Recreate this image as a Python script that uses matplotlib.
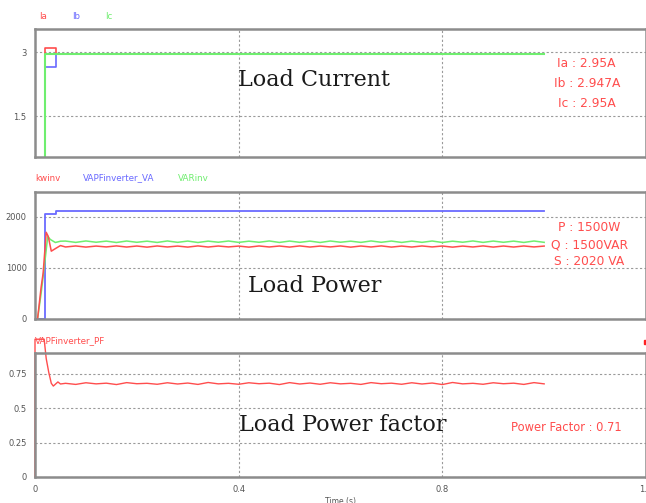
import matplotlib
matplotlib.use("Agg")
import matplotlib.pyplot as plt
import numpy as np

# --- load current (A) ---
t_cur = [0, 0.02, 0.02, 0.041, 0.041, 1.0]
ia = [0, 0, 3.09, 3.09, 2.95, 2.95]
ib = [0, 0, 2.65, 2.65, 2.947, 2.947]
ic = [0, 0, 2.95, 2.95, 2.95, 2.95]

# --- load power ---
t_p0 = [0, 0.005, 0.012, 0.016, 0.022, 0.026, 0.032, 0.04, 0.05]
p0 = [0, 0, 620, 900, 1700, 1620, 1330, 1380, 1440]
t_q0 = [0, 0.005, 0.012, 0.018, 0.025, 0.03, 0.04, 0.05]
q0 = [0, 0, 500, 1000, 1620, 1560, 1500, 1525]
t_s = [0, 0.02, 0.02, 0.042, 0.042, 1.0]
s_va = [0, 0, 2060, 2060, 2110, 2110]

# steady state samples, 0.06 s .. 1.0 s
p_ss = [1412, 1432, 1410, 1430, 1413, 1433, 1411, 1431, 1409, 1432, 1412, 1430,
        1410, 1433, 1411, 1431, 1413, 1430, 1409, 1432, 1412, 1431, 1410, 1433,
        1411, 1430, 1413, 1432, 1409, 1431, 1412, 1433, 1410, 1430, 1411, 1432,
        1413, 1431, 1409, 1430, 1412, 1433, 1410, 1431, 1411, 1432, 1413, 1430]
q_ss = [1528, 1502, 1530, 1505, 1527, 1500, 1529, 1504, 1526, 1501, 1530, 1503,
        1528, 1500, 1527, 1505, 1529, 1502, 1526, 1504, 1530, 1501, 1528, 1503,
        1527, 1500, 1529, 1505, 1526, 1502, 1530, 1504, 1528, 1501, 1527, 1503,
        1529, 1500, 1526, 1505, 1530, 1502, 1528, 1504, 1527, 1501, 1529, 1503]

# --- power factor ---
t_pf0 = [0, 0, 0.018, 0.022, 0.027, 0.032, 0.036, 0.045, 0.05]
pf0 = [0, 1.0, 1.0, 0.86, 0.76, 0.68, 0.66, 0.69, 0.675]
pf_ss = [0.680, 0.672, 0.684, 0.676, 0.681, 0.671, 0.685, 0.677, 0.680, 0.673,
         0.684, 0.675, 0.682, 0.672, 0.686, 0.676, 0.680, 0.673, 0.684, 0.677,
         0.681, 0.671, 0.685, 0.675, 0.682, 0.673, 0.684, 0.676, 0.680, 0.672,
         0.685, 0.677, 0.681, 0.673, 0.684, 0.675, 0.682, 0.671, 0.686, 0.676,
         0.680, 0.673, 0.684, 0.677, 0.681, 0.672, 0.685, 0.676]

t_ss = np.linspace(0.06, 1.0, len(p_ss))

RED = "#ff4d4d"
BLUE = "#6a6aff"
GREEN = "#6fee6f"
GRID = "#9a9a9a"
SANS = ["DejaVu Sans"]
SERIF = ["DejaVu Serif"]

fig = plt.figure(figsize=(6.46, 5.03), dpi=100)
left, width = 35 / 646, 611 / 646
ax1 = fig.add_axes([left, 1 - 157 / 503, width, 128 / 503])
ax2 = fig.add_axes([left, 1 - 319 / 503, width, 127 / 503])
ax3 = fig.add_axes([left, 1 - 477 / 503, width, 124 / 503])


def style(ax, yticks, ylabels, ylim):
    ax.set_xlim(0, 1.2)
    ax.set_ylim(*ylim)
    ax.set_yticks(yticks)
    ax.set_yticklabels(ylabels)
    ax.set_xticks([0, 0.4, 0.8, 1.2])
    for sp in ax.spines.values():
        sp.set_color("#8c8c8c")
        sp.set_linewidth(1.8)
    ax.tick_params(length=0, labelsize=6, labelcolor="#555555", pad=6)
    for y in yticks:
        ax.axhline(y, color=GRID, lw=0.8, ls=(0, (2, 2)), zorder=0)
    for x in (0.4, 0.8):
        ax.axvline(x, color=GRID, lw=0.8, ls=(0, (2, 2)), zorder=0)


def names(ax, items, y):
    for x, txt, c in items:
        ax.text(x, y, txt, color=c, fontsize=6.3, family=SANS,
                transform=ax.transAxes, ha="left", va="center")


def title(ax, x, y, txt):
    ax.text(x, y, txt, transform=ax.transAxes, ha="center", va="center",
            fontsize=16, family=SERIF, color="#1a1a1a")


def notes(ax, x, ys, lines, size=8.8):
    for y, s in zip(ys, lines):
        ax.text(x, y, s, transform=ax.transAxes, ha="center", va="center",
                fontsize=size, family=SANS, color=RED)


# current
style(ax1, [1.5, 3], ["1.5", "3"], (0.54, 3.54))
ax1.set_xticklabels([])
ax1.plot(t_cur, ia, color=RED, lw=1.2)
ax1.plot(t_cur, ib, color=BLUE, lw=1.2)
ax1.plot(t_cur, ic, color=GREEN, lw=1.5)
names(ax1, [(0.006, "Ia", RED), (0.06, "Ib", BLUE), (0.115, "Ic", GREEN)], 1.10)
title(ax1, 0.457, 0.60, "Load Current")
notes(ax1, 0.903, [0.734, 0.578, 0.42], ["Ia : 2.95A", "Ib : 2.947A", "Ic : 2.95A"])

# power
style(ax2, [0, 1000, 2000], ["0", "1000", "2000"], (0, 2490))
ax2.set_xticklabels([])
ax2.plot(t_s, s_va, color=BLUE, lw=1.3)
ax2.plot(list(t_q0) + list(t_ss), q0 + q_ss, color=GREEN, lw=1.1)
ax2.plot(list(t_p0) + list(t_ss), p0 + p_ss, color=RED, lw=1.1)
names(ax2, [(0.0, "kwinv", RED), (0.078, "VAPFinverter_VA", BLUE),
            (0.234, "VARinv", GREEN)], 1.11)
title(ax2, 0.458, 0.26, "Load Power")
notes(ax2, 0.907, [0.717, 0.583, 0.449], ["P : 1500W", "Q : 1500VAR", "S : 2020 VA"])

# power factor
style(ax3, [0, 0.25, 0.5, 0.75], ["0", "0.25", "0.5", "0.75"], (0, 0.9))
ax3.set_xticklabels(["0", "0.4", "0.8", "1.2"])
ax3.plot(list(t_pf0) + list(t_ss), pf0 + pf_ss, color=RED, lw=1.0,
         clip_on=False)
names(ax3, [(0.0, "VAPFinverter_PF", RED)], 1.10)
ax3.plot([1.0], [1.09], marker="s", ms=3, color="#ff2020",
         transform=ax3.transAxes, clip_on=False)
title(ax3, 0.503, 0.42, "Load Power factor")
notes(ax3, 0.869, [0.403], ["Power Factor : 0.71"], size=8.3)
ax3.set_xlabel("Time (s)", fontsize=5.5, color="#555555", labelpad=2)

fig.savefig("out.png", dpi=100)
